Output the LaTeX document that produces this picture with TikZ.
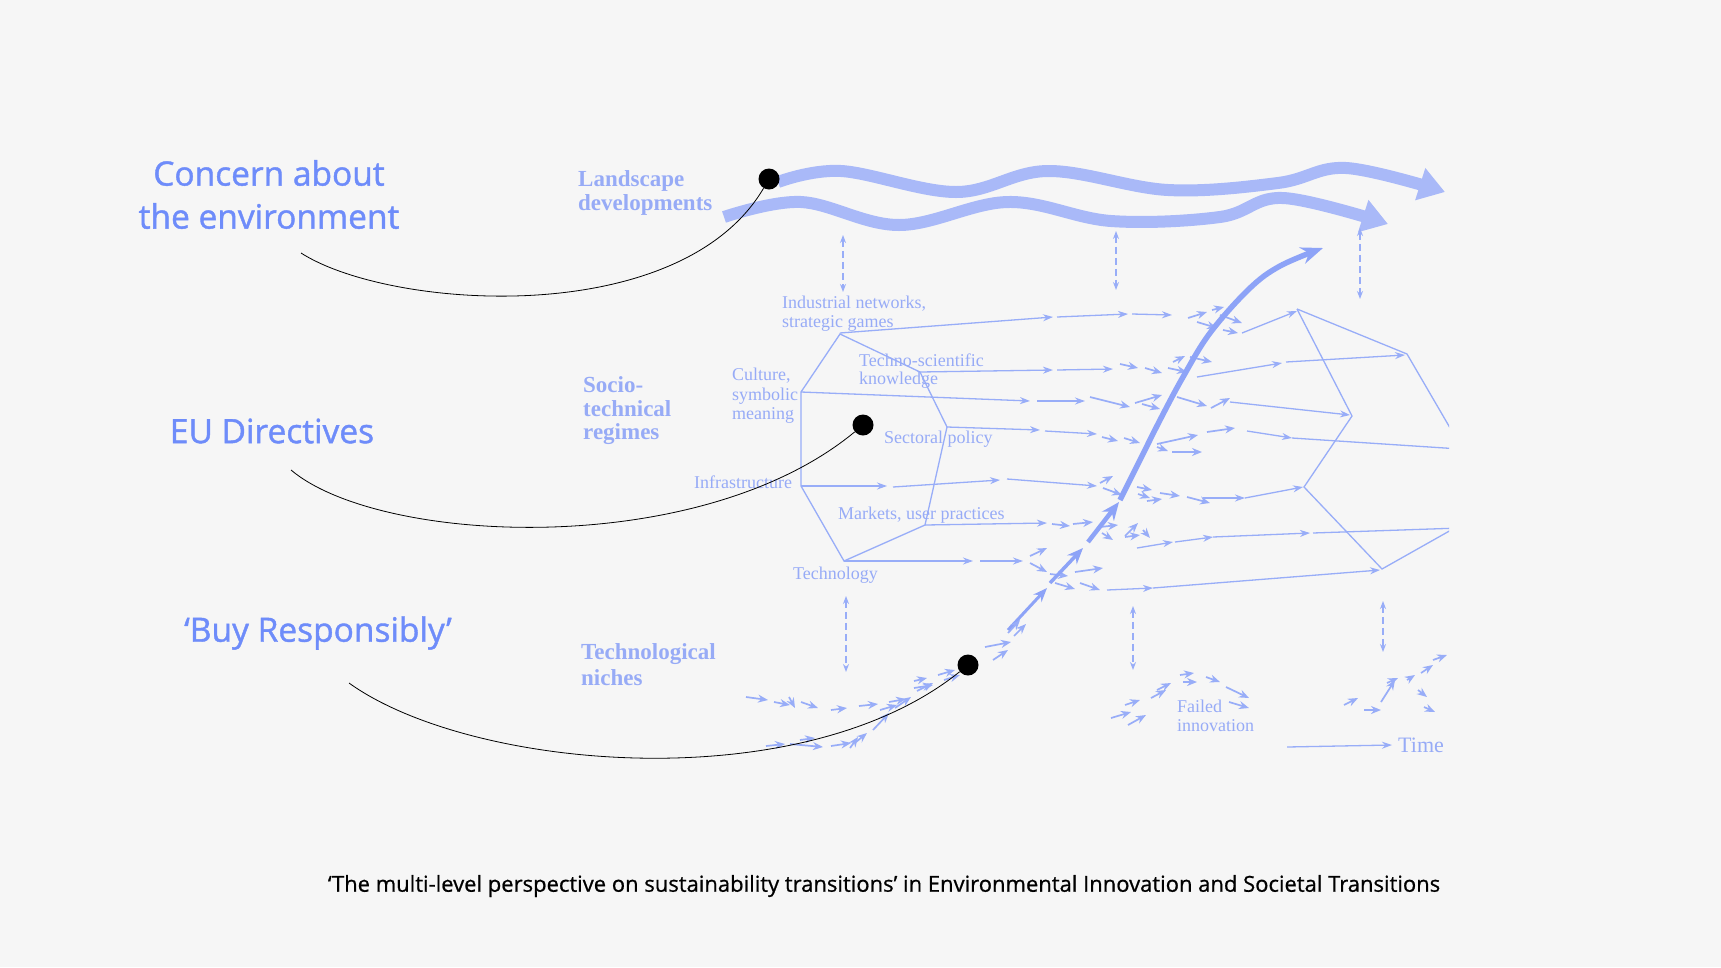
\documentclass[tikz,border=0pt]{standalone}
\usepackage{fontspec}
\setmainfont{Liberation Serif}
\newfontfamily\calloutfont[FakeBold=1.2]{Open Sans}
\newfontfamily\captionfont[FakeBold=0.8]{Open Sans}
\usetikzlibrary{arrows.meta}
\definecolor{bg}{HTML}{F6F6F6}
\definecolor{callout}{HTML}{6E8CFA}
\definecolor{dlab}{HTML}{97ABF6}
\definecolor{dline}{HTML}{98ADF8}
\definecolor{wavec}{HTML}{A9B9F8}
\definecolor{scurve}{HTML}{8DA3F7}
\tikzset{
 flow/.style={draw=dline, line width=1.3pt, -{Stealth[length=10pt,width=7pt]}},
 nflow/.style={draw=dline, line width=1.7pt, -{Stealth[length=10pt,width=8pt]}},
 plainline/.style={draw=dline, line width=1.3pt},
 dashv/.style={draw=dline, line width=1.2pt, dash pattern=on 7pt off 4pt, {Stealth[length=8pt,width=6pt]}-{Stealth[length=8pt,width=6pt]}},
 lab/.style={text=dlab, font=\fontsize{18}{19}\selectfont, inner sep=0pt, anchor=west},
 blab/.style={text=dlab, font=\fontsize{23}{24}\selectfont\bfseries, inner sep=0pt, anchor=west},
 call/.style={text=callout, font=\calloutfont\fontsize{33.5}{38}\selectfont, inner sep=0pt},
 dot/.style={circle, fill=black, minimum size=21pt, inner sep=0pt},
 link/.style={draw=black, line width=0.8pt},
 wave/.style={draw=wavec, line width=12pt, -{Triangle[length=26pt,width=32pt]}},
}
\newcommand\fa[2]{\draw[flow] #1 -- #2;}
\newcommand\na[2]{\draw[nflow] #1 -- #2;}
\begin{document}
\begin{tikzpicture}[x=1pt,y=-1pt]
\fill[bg] (0,0) rectangle (1721,967);
\path[use as bounding box] (0,0) rectangle (1721,967);

% ---------- callout texts ----------
\node[call] (t1a) at (269,173) {Concern about};
\node[call] (t1b) at (269,216) {the environment};
\node[call] (t2) at (272,431) {EU Directives};
\node[call] (t3) at (318,633) {‘Buy Responsibly’};
\node[font=\captionfont\fontsize{22}{25}\selectfont, text=black, inner sep=0pt] (cap) at (884,886)
 {‘The multi-level perspective on sustainability transitions’ in Environmental Innovation and Societal Transitions};

% ---------- level labels ----------
\node[blab] (l1a) at (578,181) {Landscape};
\node[blab] (l1b) at (578,205) {developments};
\node[blab] (l2a) at (583,385) {Socio-};
\node[blab] (l2b) at (583,409) {technical};
\node[blab] (l2c) at (583,434) {regimes};
\node[blab] (l3a) at (581,654) {Technological};
\node[blab] (l3b) at (581,678) {niches};

\begin{scope}
\clip (0,0) rectangle (1449,967);
% ---------- landscape waves ----------
\draw[wave] plot[smooth, tension=0.6] coordinates {(778,182) (841,171) (956,192) (1048,171) (1168,190) (1278,183) (1346,168) (1445,192)};
\draw[wave] plot[smooth, tension=0.6] coordinates {(724,217) (801,202) (899,225) (1008,202) (1111,221) (1220,217) (1283,198) (1388,224)};

% ---------- dashed vertical links ----------
\draw[dashv] (843,235) -- (843,292);
\draw[dashv] (1116,231) -- (1116,290);
\draw[dashv] (1360,228) -- (1360,299);
\draw[dashv] (846,596) -- (846,672);
\draw[dashv] (1133,606) -- (1133,670);
\draw[dashv] (1383,601) -- (1383,652);

% ---------- left regime polygon ----------
\draw[plainline] (840,334) -- (920,372) -- (947,427) -- (925,525) -- (844,561) -- (801,486) -- (801,392) -- cycle;
% ---------- right regime polygon ----------
\draw[plainline] (1297,309) -- (1352,416) -- (1304,487) -- (1382,569) -- (1460,525);
\draw[plainline] (1297,309) -- (1407,354) -- (1460,445);

% ---------- regime labels ----------
\node[lab] (r1a) at (782,304) {Industrial networks,};
\node[lab] (r1b) at (782,323) {strategic games};
\node[lab] (r2a) at (859,360) {Techno-scientific};
\node[lab] (r2b) at (859,380) {knowledge};
\node[lab] (r3a) at (732,376) {Culture,};
\node[lab] (r3b) at (732,396) {symbolic};
\node[lab] (r3c) at (732,415) {meaning};
\node[lab] (r4) at (884,439) {Sectoral policy};
\node[lab] (r5) at (694,482) {Infrastructure};
\node[lab] (r6) at (838,515) {Markets, user practices};
\node[lab] (r7) at (793,575) {Technology};

% ---------- flow lines ----------
% F1
\fa{(840,333)}{(1053,317)} \fa{(1057,317)}{(1128,314)} \fa{(1132,314)}{(1172,315)}
\na{(1188,318)}{(1207,312)} \na{(1212,310)}{(1224,307)} \na{(1220,315)}{(1242,323)}
\na{(1197,322)}{(1217,328)} \na{(1223,330)}{(1238,333)}
\fa{(1242,333)}{(1297,311)}
% F2
\fa{(920,372)}{(1053,370)} \fa{(1057,370)}{(1113,369)}
\na{(1120,364)}{(1138,368)} \na{(1145,368)}{(1162,373)}
\na{(1173,362)}{(1185,356)} \na{(1190,357)}{(1212,362)} \na{(1168,368)}{(1187,372)}
\fa{(1197,377)}{(1282,363)} \fa{(1286,362)}{(1405,355)}
% F3
\fa{(801,392)}{(1030,401)} \fa{(1037,401)}{(1085,401)}
\na{(1090,397)}{(1130,407)} \na{(1135,403)}{(1162,395)} \na{(1142,404)}{(1160,409)}
\na{(1177,397)}{(1207,406)} \na{(1211,408)}{(1230,398)}
\fa{(1230,402)}{(1350,415)}
% F4
\fa{(947,427)}{(1040,430)} \fa{(1045,431)}{(1097,434)}
\na{(1102,437)}{(1118,441)} \na{(1124,438)}{(1140,443)}
\na{(1157,444)}{(1198,435)} \na{(1207,432)}{(1235,428)}
\na{(1157,447)}{(1168,451)} \na{(1172,452)}{(1202,452)}
\fa{(1247,431)}{(1292,438)} \draw[plainline] (1292,438) -- (1460,449);
% F5
\fa{(801,486)}{(887,486)} \fa{(893,487)}{(1000,480)} \fa{(1007,479)}{(1097,486)}
\na{(1100,483)}{(1113,476)} \na{(1103,488)}{(1122,495)}
\na{(1137,487)}{(1152,490)} \na{(1138,494)}{(1150,498)} \na{(1147,501)}{(1162,499)}
\na{(1160,493)}{(1180,496)} \na{(1187,497)}{(1210,503)}
\fa{(1203,498)}{(1245,498)} \fa{(1245,498)}{(1303,487)}
% F6
\fa{(925,525)}{(1047,523)} \na{(1052,524)}{(1070,526)} \na{(1073,524)}{(1093,522)}
\na{(1100,527)}{(1118,525)} \na{(1102,533)}{(1113,540)} \na{(1125,536)}{(1138,523)}
\na{(1125,537)}{(1140,535)} \na{(1143,530)}{(1150,538)}
\fa{(1137,548)}{(1173,542)} \fa{(1175,542)}{(1213,537)} \fa{(1213,537)}{(1310,533)}
\draw[plainline] (1313,533) -- (1460,528);
% F7
\fa{(844,561)}{(973,561)} \fa{(980,561)}{(1023,561)}
\na{(1030,556)}{(1047,548)} \na{(1030,563)}{(1047,572)}
\na{(1050,574)}{(1068,576)} \na{(1075,572)}{(1103,568)}
\na{(1055,583)}{(1075,589)} \na{(1080,583)}{(1100,590)}
\fa{(1107,590)}{(1153,588)} \fa{(1153,588)}{(1380,570)}

% ---------- S-curve ----------
\draw[draw=scurve, line width=5.5pt, -{Stealth[length=22pt,width=17pt]}]
  plot[smooth, tension=0.6] coordinates {(1120,500) (1140,460) (1160,420) (1183,377) (1210,333) (1249,289) (1280,266) (1323,248)};
\draw[draw=scurve, line width=4.5pt, -{Stealth[length=18pt,width=15pt]}] (1088,542) -- (1119,502);
\draw[draw=scurve, line width=3.5pt, -{Stealth[length=16pt,width=13pt]}] (1050,583) -- (1083,548);
\draw[draw=scurve, line width=3pt, -{Stealth[length=14pt,width=11pt]}] (1008,630) -- (1047,588);

% ---------- niches ----------
\na{(746,697)}{(768,700)} \na{(774,702)}{(790,705)} \na{(801,702)}{(818,708)}
\na{(831,710)}{(847,708)} \na{(859,706)}{(878,704)} \na{(889,702)}{(906,699)}
\na{(914,688)}{(933,685)} \na{(914,681)}{(927,678)} \na{(938,675)}{(955,670)}
\na{(944,680)}{(960,675)} \na{(789,697)}{(795,708)} \na{(880,710)}{(897,705)}
\na{(766,746)}{(785,744)} \na{(790,744)}{(823,747)} \na{(831,746)}{(851,743)}
\na{(856,742)}{(867,733)} \na{(873,730)}{(889,713)} \na{(895,708)}{(911,697)}
\na{(917,691)}{(933,683)} \na{(800,740)}{(815,738)} \na{(850,748)}{(858,737)}
\na{(985,647)}{(1011,642)} \na{(993,660)}{(1008,650)}
\na{(1008,633)}{(1020,620)} \na{(1014,636)}{(1026,624)}
% failed innovation
\na{(1111,718)}{(1131,712)} \na{(1128,725)}{(1146,715)} \na{(1125,705)}{(1140,700)}
\na{(1151,698)}{(1166,690)} \na{(1157,690)}{(1171,683)} \na{(1180,675)}{(1194,673)}
\na{(1183,682)}{(1197,682)} \na{(1206,677)}{(1220,682)} \na{(1226,687)}{(1249,698)}
\na{(1229,702)}{(1249,708)}
\node[lab] (fi1) at (1177,706) {Failed};
\node[lab] (fi2) at (1177,726) {innovation};
% right cluster
\na{(1344,705)}{(1358,698)} \na{(1364,710)}{(1381,710)} \na{(1381,702)}{(1395,680)}
\na{(1387,683)}{(1398,678)} \na{(1407,680)}{(1415,675)} \na{(1421,673)}{(1433,665)}
\na{(1433,660)}{(1447,655)} \na{(1418,690)}{(1427,697)} \na{(1424,707)}{(1435,712)}
\end{scope}

% time arrow
\coordinate (ts) at (1287,747);
\node[lab, font=\fontsize{22}{24}\selectfont] (time) at (1398,745) {Time};
\draw[flow] (ts) -- ([xshift=-6pt]time.west);

% ---------- dots and callout links ----------
\node[dot] (d1) at (769,179) {};
\node[dot] (d2) at (863,425) {};
\node[dot] (d3) at (968,665) {};
\coordinate (s1) at (301,253);
\coordinate (s2) at (291,470);
\coordinate (s3) at (349,683);
\draw[link] (s1) .. controls (390,310) and (680,330) .. (d1);
\draw[link] (s2) .. controls (380,545) and (700,560) .. (d2);
\draw[link] (s3) .. controls (470,770) and (800,800) .. (d3);
\end{tikzpicture}
\end{document}
